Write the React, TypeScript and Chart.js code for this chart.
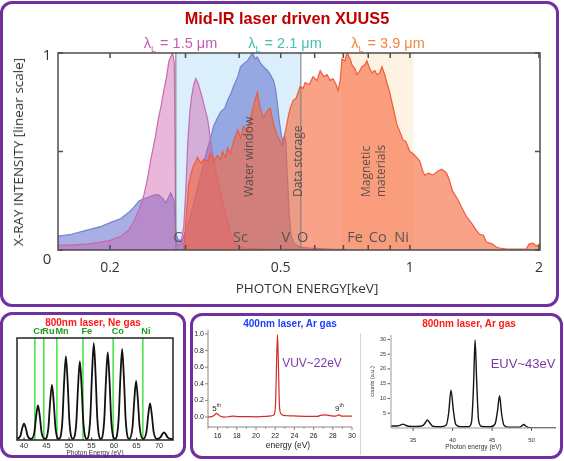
import React, { useEffect, useRef } from "react";
import { Chart, registerables } from "chart.js";

Chart.register(...registerables);

// ================= Top panel: Mid-IR laser driven XUUS5 =================
const TOP_X_MIN = 0.1513;
const TOP_X_MAX = 2.011;
const TOP_X_TICKS = [0.2, 0.3, 0.4, 0.5, 0.6, 0.7, 0.8, 0.9, 1, 2];
const TOP_X_LABEL_AT = [0.2, 0.5, 1, 2];
const TOP_X_LABELS = ["0.2", "0.5", "1", "2"];
const TOP_Y_TICKS = [0, 0.5, 1];

const EDGE_NAMES = ["C", "Sc", "V", "O", "Fe", "Co", "Ni"];
const EDGE_KEV = [0.2877, 0.403, 0.514, 0.5627, 0.745, 0.842, 0.957];
const REGION_NAMES = ["Water window", "Data storage", "Magnetic", "materials"];
const REGION_KEV = [0.424, 0.549, 0.794, 0.861];
const WATER_BAND = [0.2847, 0.557];
const MAGNETIC_BAND = [0.692, 1.02];
const EDGE_LINES = [0.2847, 0.557];

// lambda = 1.5 um (pink)
const PINK_KEV = [0.1513, 0.1625, 0.176, 0.191, 0.201, 0.212, 0.221, 0.228, 0.234, 0.24, 0.245, 0.249, 0.255, 0.259, 0.263, 0.267, 0.271, 0.2744, 0.277, 0.28, 0.2825, 0.2847, 0.2877, 0.2924, 0.2972, 0.3004, 0.3037, 0.307, 0.31, 0.3136, 0.317, 0.3204, 0.3256, 0.331, 0.338, 0.3434, 0.349, 0.356, 0.362, 0.3704, 0.376, 0.382, 0.388, 0.397, 0.414, 0.448, 0.52, 0.62];
const PINK_INT = [0.025, 0.025, 0.03, 0.04, 0.05, 0.07, 0.1, 0.15, 0.21, 0.28, 0.37, 0.46, 0.57, 0.66, 0.73, 0.81, 0.88, 0.96, 0.98, 1.0, 0.95, 0.05, 0.02, 0.03, 0.12, 0.3, 0.55, 0.7, 0.78, 0.84, 0.87, 0.85, 0.8, 0.74, 0.66, 0.55, 0.46, 0.36, 0.29, 0.2, 0.15, 0.09, 0.05, 0.02, 0.01, 0.006, 0.004, 0.002];

// lambda = 2.1 um (blue)
const BLUE_KEV = [0.1513, 0.1625, 0.176, 0.191, 0.201, 0.212, 0.221, 0.228, 0.234, 0.24, 0.247, 0.254, 0.26, 0.266, 0.27, 0.2744, 0.277, 0.282, 0.2847, 0.289, 0.294, 0.3, 0.3085, 0.317, 0.3256, 0.3325, 0.338, 0.3434, 0.349, 0.356, 0.362, 0.3704, 0.376, 0.382, 0.388, 0.397, 0.403, 0.412, 0.418, 0.424, 0.43, 0.436, 0.441, 0.448, 0.456, 0.466, 0.473, 0.481, 0.486, 0.491, 0.496, 0.502, 0.506, 0.51, 0.514, 0.518, 0.5235, 0.529, 0.538, 0.555, 0.585, 0.652, 0.706];
const BLUE_INT = [0.07, 0.08, 0.1, 0.12, 0.14, 0.16, 0.19, 0.22, 0.25, 0.26, 0.27, 0.28, 0.28, 0.26, 0.24, 0.27, 0.29, 0.25, 0.08, 0.05, 0.05, 0.09, 0.18, 0.28, 0.38, 0.46, 0.52, 0.57, 0.63, 0.67, 0.7, 0.72, 0.76, 0.79, 0.83, 0.88, 0.93, 0.95, 0.96, 0.98, 1.0, 0.97, 0.98, 0.95, 0.93, 0.91, 0.89, 0.86, 0.82, 0.75, 0.66, 0.58, 0.55, 0.58, 0.55, 0.38, 0.18, 0.07, 0.03, 0.015, 0.01, 0.005, 0.003];

// lambda = 3.9 um (orange)
const ORANGE_KEV = [0.295, 0.297, 0.302, 0.305, 0.3085, 0.312, 0.317, 0.32, 0.3256, 0.331, 0.338, 0.343, 0.349, 0.356, 0.362, 0.366, 0.372, 0.376, 0.382, 0.388, 0.397, 0.403, 0.41, 0.418, 0.424, 0.433, 0.441, 0.448, 0.456, 0.466, 0.473, 0.481, 0.491, 0.499, 0.504, 0.5125, 0.521, 0.526, 0.535, 0.543, 0.555, 0.564, 0.57, 0.583, 0.595, 0.607, 0.618, 0.63, 0.641, 0.652, 0.662, 0.673, 0.68, 0.688, 0.695, 0.706, 0.714, 0.726, 0.733, 0.745, 0.753, 0.765, 0.773, 0.786, 0.794, 0.807, 0.816, 0.829, 0.838, 0.851, 0.861, 0.874, 0.884, 0.898, 0.908, 0.922, 0.932, 0.948, 0.963, 0.979, 1.0, 1.016, 1.038, 1.055, 1.072, 1.083, 1.106, 1.13, 1.161, 1.186, 1.205, 1.218, 1.238, 1.257, 1.291, 1.319, 1.34, 1.355, 1.377, 1.399, 1.429, 1.453, 1.484, 1.508, 1.533, 1.557, 1.59, 1.616, 1.68, 1.733, 1.799, 1.867, 1.897, 1.937, 1.97, 2.011];
const ORANGE_INT = [0, 0.0, 0.2, 0.33, 0.38, 0.42, 0.45, 0.47, 0.44, 0.46, 0.45, 0.49, 0.45, 0.48, 0.46, 0.5, 0.47, 0.52, 0.49, 0.55, 0.61, 0.57, 0.63, 0.6, 0.66, 0.74, 0.8, 0.72, 0.67, 0.71, 0.72, 0.64, 0.58, 0.55, 0.53, 0.6, 0.68, 0.72, 0.76, 0.77, 0.83, 0.82, 0.85, 0.84, 0.88, 0.86, 0.91, 0.88, 0.89, 0.86, 0.87, 0.84, 0.81, 0.86, 0.97, 0.96, 1.0, 0.97, 0.94, 0.92, 0.89, 0.91, 0.93, 0.94, 0.96, 0.92, 0.9, 0.91, 0.89, 0.9, 0.93, 0.89, 0.85, 0.8, 0.75, 0.69, 0.64, 0.6, 0.56, 0.55, 0.5, 0.49, 0.47, 0.45, 0.4, 0.38, 0.39, 0.38, 0.4, 0.41, 0.4, 0.39, 0.35, 0.3, 0.26, 0.22, 0.19, 0.17, 0.15, 0.13, 0.1, 0.08, 0.075, 0.04, 0.035, 0.03, 0.015, 0.01, 0.005, 0.005, 0.005, 0.005, 0.03, 0.035, 0.02, 0.03];

// ================= Bottom-left: 800nm laser, Ne gas =================
const NE_X_MIN = 38.44;
const NE_X_MAX = 73.1;
const NE_X_TICKS = [40, 45, 50, 55, 60, 65, 70];
const NE_EDGE_NAMES = ["Cr", "Ru", "Mn", "Fe", "Co", "Ni"];
const NE_EDGE_EV = [42.4, 44.4, 47.3, 53.1, 59.8, 66.4];
const NE_EV = [38.4, 39.2, 39.6, 40.0, 40.4, 40.8, 41.55, 42.3, 42.7, 43.1, 43.5, 43.9, 44.65, 45.4, 45.8, 46.2, 46.6, 47.0, 47.75, 48.5, 48.9, 49.3, 49.7, 50.1, 50.85, 51.6, 52.0, 52.4, 52.8, 53.2, 53.95, 54.7, 55.1, 55.5, 55.9, 56.3, 57.05, 57.8, 58.2, 58.6, 59.0, 59.4, 60.2, 61.0, 61.4, 61.8, 62.2, 62.6, 63.35, 64.1, 64.5, 64.9, 65.3, 65.7, 66.45, 67.2, 67.6, 68.0, 68.4, 68.8, 69.55, 70.3, 70.7, 71.1, 71.5, 71.9, 72.6, 73.1];
const NE_SIG = [0.01, 0.04, 0.115, 0.16, 0.115, 0.04, 0.01, 0.075, 0.235, 0.34, 0.235, 0.075, 0.01, 0.115, 0.37, 0.54, 0.37, 0.115, 0.01, 0.17, 0.56, 0.82, 0.56, 0.17, 0.01, 0.16, 0.52, 0.77, 0.52, 0.16, 0.01, 0.2, 0.64, 0.95, 0.64, 0.2, 0.01, 0.18, 0.58, 0.86, 0.58, 0.18, 0.01, 0.19, 0.6, 0.89, 0.6, 0.19, 0.01, 0.125, 0.39, 0.58, 0.39, 0.125, 0.01, 0.08, 0.245, 0.36, 0.245, 0.08, 0.01, 0.025, 0.055, 0.075, 0.055, 0.025, 0.01, 0.01];

// ================= Bottom-middle: 400nm laser, Ar gas =================
const VUV_X_TICKS = [16, 18, 20, 22, 24, 26, 28, 30];
const VUV_X_MINOR = [15, 17, 19, 21, 23, 25, 27, 29];
const VUV_Y_TICKS = [0, 0.2, 0.4, 0.6, 0.8, 1.0];
const VUV_HARM_NAMES = ["5", "9"];
const VUV_HARM_EV = [15.87, 28.65];
const VUV_EV = [15.0, 15.4, 15.7, 15.87, 16.05, 16.3, 16.7, 17.2, 17.6, 18.2, 19.0, 20.0, 21.0, 21.6, 21.9, 22.05, 22.15, 22.24, 22.33, 22.45, 22.6, 22.9, 23.5, 24.5, 25.5, 26.4, 26.7, 27.2, 27.8, 28.3, 28.65, 28.9, 29.4, 30.0];
const VUV_SIG = [0.0, 0.005, 0.025, 0.045, 0.03, 0.01, 0.0, 0.005, 0.01, 0.005, 0.005, 0.003, 0.008, 0.015, 0.03, 0.2, 0.7, 0.99, 0.65, 0.12, 0.04, 0.02, 0.015, 0.01, 0.008, 0.008, 0.02, 0.025, 0.015, 0.01, 0.025, 0.01, 0.012, 0.01];

// ================= Bottom-right: 800nm laser, Ar gas =================
const EUV_X_TICKS = [35, 40, 45, 50];
const EUV_Y_TICKS = [5, 10, 15, 20, 25, 30];
const EUV_EV = [32.2, 33.0, 33.4, 33.7, 34.0, 34.4, 35.5, 36.2, 36.5, 36.8, 37.1, 37.5, 38.5, 39.2, 39.5, 39.8, 40.1, 40.4, 41.0, 42.0, 42.4, 42.65, 42.85, 43.05, 43.3, 43.7, 44.8, 45.4, 45.7, 45.95, 46.2, 46.5, 47.0, 48.5, 48.8, 49.0, 49.3, 49.7, 51.0, 53.1];
const EUV_CNT = [0.7, 0.7, 1.0, 1.3, 1.0, 0.6, 0.5, 0.8, 1.6, 2.7, 1.8, 0.6, 0.4, 1.0, 5.0, 12.8, 6.0, 1.2, 0.4, 0.4, 2.0, 14.0, 29.8, 16.0, 2.5, 0.5, 0.4, 1.5, 6.0, 10.9, 5.0, 1.0, 0.3, 0.3, 0.8, 1.2, 0.6, 0.1, 0.0, 0.0];

// ================= helpers =================
const SANS = '"Open Sans", "Noto Sans", sans-serif';
const ARIAL = '"Liberation Sans", Arial, sans-serif';
const PURPLE = "#7030a0";

const pairs = (xs: number[], ys: number[]) => xs.map((v, i) => ({ x: v, y: ys[i] }));

function seg(ctx: CanvasRenderingContext2D, x1: number, y1: number, x2: number, y2: number) {
  ctx.beginPath();
  ctx.moveTo(x1, y1);
  ctx.lineTo(x2, y2);
  ctx.stroke();
}

function baseOptions(padding: any, scales: any) {
  return {
    animation: false,
    responsive: false,
    devicePixelRatio: 1,
    events: [],
    layout: { padding },
    plugins: { legend: { display: false }, tooltip: { enabled: false }, title: { display: false } },
    elements: { point: { radius: 0 } },
    scales,
  };
}

// ----- top decorations -----
const topDecor = {
  id: "topDecor",
  beforeDatasetsDraw(chart: any) {
    const { ctx, chartArea: a } = chart;
    const x = chart.scales.x;
    ctx.save();
    const band = (r: number[], color: string) => {
      const p0 = x.getPixelForValue(r[0]);
      const p1 = x.getPixelForValue(r[1]);
      ctx.fillStyle = color;
      ctx.fillRect(p0, a.top, p1 - p0, a.bottom - a.top);
    };
    band(WATER_BAND, "#daeffb");
    band(MAGNETIC_BAND, "#fdf3e3");
    ctx.restore();
  },
  afterDatasetsDraw(chart: any) {
    const { ctx, chartArea: a } = chart;
    const x = chart.scales.x;
    ctx.save();
    ctx.strokeStyle = "rgba(125,125,125,0.7)";
    ctx.lineWidth = 1.5;
    EDGE_LINES.forEach((e) => {
      const p = x.getPixelForValue(e);
      seg(ctx, p, a.top, p, a.bottom);
    });
    ctx.fillStyle = "rgba(60,60,60,0.8)";
    ctx.font = `12px ${SANS}`;
    ctx.textAlign = "left";
    ctx.textBaseline = "middle";
    REGION_NAMES.forEach((t, i) => {
      const p = x.getPixelForValue(REGION_KEV[i]);
      ctx.save();
      ctx.translate(p, a.bottom - 53);
      ctx.rotate(-Math.PI / 2);
      ctx.fillText(t, 0, 0);
      ctx.restore();
    });
    ctx.fillStyle = "#555";
    ctx.font = `14.5px ${SANS}`;
    ctx.textAlign = "center";
    EDGE_NAMES.forEach((t, i) => ctx.fillText(t, x.getPixelForValue(EDGE_KEV[i]), a.bottom - 12));
    ctx.restore();
  },
  afterDraw(chart: any) {
    const { ctx, chartArea: a } = chart;
    const x = chart.scales.x;
    const y = chart.scales.y;
    ctx.save();
    ctx.strokeStyle = "#4d4d4d";
    ctx.lineWidth = 1.5;
    ctx.strokeRect(a.left, a.top, a.right - a.left, a.bottom - a.top);
    TOP_X_TICKS.forEach((t) => {
      const p = x.getPixelForValue(t);
      seg(ctx, p, a.bottom, p, a.bottom - 5);
      seg(ctx, p, a.top, p, a.top + 5);
    });
    TOP_Y_TICKS.forEach((t) => {
      const p = y.getPixelForValue(t);
      seg(ctx, a.left, p, a.left + 5, p);
      seg(ctx, a.right, p, a.right - 5, p);
    });
    ctx.fillStyle = "#333";
    ctx.font = `14px ${SANS}`;
    ctx.textAlign = "center";
    ctx.textBaseline = "middle";
    TOP_X_LABEL_AT.forEach((t, i) => ctx.fillText(TOP_X_LABELS[i], x.getPixelForValue(t), a.bottom + 18));
    ctx.font = `15px ${SANS}`;
    ctx.fillText("1", a.left - 11, y.getPixelForValue(1) + 3);
    ctx.fillText("0", a.left - 11, y.getPixelForValue(0) + 10);
    ctx.restore();
  },
};

// ----- Ne decorations -----
const neDecor = {
  id: "neDecor",
  beforeDatasetsDraw(chart: any) {
    const { ctx, chartArea: a } = chart;
    const x = chart.scales.x;
    ctx.save();
    ctx.strokeStyle = "#4ce64c";
    ctx.lineWidth = 1.6;
    NE_EDGE_EV.forEach((e) => {
      const p = x.getPixelForValue(e);
      seg(ctx, p, a.top, p, a.bottom);
    });
    ctx.restore();
  },
  afterDraw(chart: any) {
    const { ctx, chartArea: a } = chart;
    const x = chart.scales.x;
    ctx.save();
    ctx.strokeStyle = "#222";
    ctx.lineWidth = 1.5;
    ctx.strokeRect(a.left, a.top, a.right - a.left, a.bottom - a.top);
    ctx.lineWidth = 1;
    NE_X_TICKS.forEach((t) => {
      const p = x.getPixelForValue(t);
      seg(ctx, p, a.bottom, p, a.bottom - 2.5);
    });
    ctx.fillStyle = "#333";
    ctx.font = `7.5px ${ARIAL}`;
    ctx.textAlign = "center";
    ctx.textBaseline = "middle";
    NE_X_TICKS.forEach((t) => ctx.fillText(String(t), x.getPixelForValue(t), a.bottom + 6));
    ctx.font = `6.5px ${ARIAL}`;
    ctx.fillText("Photon Energy (eV)", (a.left + a.right) / 2, a.bottom + 13);
    ctx.fillStyle = "#1f9e1f";
    ctx.font = `bold 9.2px ${ARIAL}`;
    ctx.textAlign = "left";
    NE_EDGE_NAMES.forEach((t, i) => ctx.fillText(t, x.getPixelForValue(NE_EDGE_EV[i]) - 1.5, a.top - 7));
    ctx.restore();
  },
};

// ----- VUV decorations -----
const vuvDecor = {
  id: "vuvDecor",
  afterDraw(chart: any) {
    const { ctx, chartArea: a } = chart;
    const x = chart.scales.x;
    const y = chart.scales.y;
    ctx.save();
    ctx.strokeStyle = "#888";
    ctx.lineWidth = 1;
    seg(ctx, a.left, a.top, a.left, a.bottom);
    seg(ctx, a.left, a.bottom, a.right, a.bottom);
    VUV_Y_TICKS.forEach((t) => {
      const p = y.getPixelForValue(t);
      seg(ctx, a.left - 3, p, a.left, p);
    });
    VUV_X_TICKS.forEach((t) => {
      const p = x.getPixelForValue(t);
      seg(ctx, p, a.bottom, p, a.bottom + 3);
    });
    VUV_X_MINOR.forEach((t) => {
      const p = x.getPixelForValue(t);
      seg(ctx, p, a.bottom, p, a.bottom + 1.8);
    });
    ctx.fillStyle = "#222";
    ctx.font = `7px ${ARIAL}`;
    ctx.textAlign = "right";
    ctx.textBaseline = "middle";
    VUV_Y_TICKS.forEach((t) => ctx.fillText(t.toFixed(1), a.left - 4, y.getPixelForValue(t)));
    ctx.textAlign = "center";
    VUV_X_TICKS.forEach((t) => ctx.fillText(String(t), x.getPixelForValue(t), a.bottom + 9));
    ctx.font = `8.5px ${ARIAL}`;
    ctx.fillText("energy (eV)", (a.left + a.right) / 2 + 8, a.bottom + 19);
    VUV_HARM_NAMES.forEach((t, i) => {
      const p = x.getPixelForValue(VUV_HARM_EV[i]);
      const q = y.getPixelForValue(0.1);
      ctx.textAlign = "left";
      ctx.font = `8px ${ARIAL}`;
      ctx.fillText(t, p - 4, q);
      const w = ctx.measureText(t).width;
      ctx.font = `5px ${ARIAL}`;
      ctx.fillText("th", p - 4 + w, q - 3);
    });
    ctx.restore();
  },
};

// ----- EUV decorations -----
const euvDecor = {
  id: "euvDecor",
  afterDraw(chart: any) {
    const { ctx, chartArea: a } = chart;
    const x = chart.scales.x;
    const y = chart.scales.y;
    ctx.save();
    ctx.strokeStyle = "#999";
    ctx.lineWidth = 1;
    seg(ctx, a.left, a.top, a.left, a.bottom);
    seg(ctx, a.left, a.bottom, a.right, a.bottom);
    ctx.strokeStyle = "#555";
    EUV_Y_TICKS.forEach((t) => {
      const p = y.getPixelForValue(t);
      seg(ctx, a.left - 3.5, p, a.left - 1, p);
    });
    EUV_X_TICKS.forEach((t) => {
      const p = x.getPixelForValue(t);
      seg(ctx, p, a.bottom, p, a.bottom + 3);
    });
    ctx.fillStyle = "#333";
    ctx.font = `5.5px ${ARIAL}`;
    ctx.textAlign = "right";
    ctx.textBaseline = "middle";
    EUV_Y_TICKS.forEach((t) => ctx.fillText(String(t), a.left - 5, y.getPixelForValue(t)));
    ctx.textAlign = "center";
    ctx.font = `6px ${ARIAL}`;
    EUV_X_TICKS.forEach((t) => ctx.fillText(String(t), x.getPixelForValue(t), a.bottom + 12));
    ctx.font = `6.5px ${ARIAL}`;
    ctx.fillText("Photon energy (eV)", (a.left + a.right) / 2, a.bottom + 19);
    ctx.save();
    ctx.translate(a.left - 19, (a.top + a.bottom) / 2);
    ctx.rotate(-Math.PI / 2);
    ctx.font = `5.5px ${ARIAL}`;
    ctx.fillText("counts (a.u.)", 0, 0);
    ctx.restore();
    ctx.restore();
  },
};

function areaDataset(xs: number[], ys: number[], fill: string, stroke: string) {
  return {
    data: pairs(xs, ys),
    backgroundColor: fill,
    borderColor: stroke,
    borderWidth: 1.2,
    fill: "origin",
    tension: 0,
    pointRadius: 0,
  };
}

const Txt = ({ x, y, children, style, rot }: any) => (
  <div
    style={{
      position: "absolute",
      left: x,
      top: y,
      transform: `translate(-50%, -50%)${rot ? ` rotate(${rot}deg)` : ""}`,
      whiteSpace: "nowrap",
      lineHeight: 1,
      ...style,
    }}
  >
    {children}
  </div>
);

const Lambda = ({ x, color, value }: any) => (
  <Txt x={x} y={43} style={{ color, font: `14.5px ${ARIAL}` }}>
    λ<span style={{ fontSize: "9px", position: "relative", top: "4px" }}>L</span> = {value} μm
  </Txt>
);

const boxStyle = (left: number, top: number, width: number, height: number): React.CSSProperties => ({
  position: "absolute",
  left,
  top,
  width,
  height,
  boxSizing: "border-box",
  border: `3px solid ${PURPLE}`,
  borderRadius: 12,
});

const canvasStyle = (left: number, top: number, width: number, height: number): React.CSSProperties => ({
  position: "absolute",
  left,
  top,
  width,
  height,
});

export default function App() {
  const topRef = useRef<HTMLCanvasElement>(null);
  const neRef = useRef<HTMLCanvasElement>(null);
  const vuvRef = useRef<HTMLCanvasElement>(null);
  const euvRef = useRef<HTMLCanvasElement>(null);

  useEffect(() => {
    document.body.style.margin = "0";
    const charts: Chart[] = [];

    charts.push(
      new Chart(topRef.current as HTMLCanvasElement, {
        type: "line",
        data: {
          datasets: [
            areaDataset(ORANGE_KEV, ORANGE_INT, "rgba(246,100,55,0.6)", "rgba(240,92,58,1)"),
            areaDataset(PINK_KEV, PINK_INT, "rgba(205,95,170,0.45)", "rgba(200,100,175,0.95)"),
            areaDataset(BLUE_KEV, BLUE_INT, "rgba(95,110,205,0.55)", "rgba(115,125,205,0.95)"),
          ],
        },
        options: baseOptions(
          { left: 58, top: 53, right: 24, bottom: 56 },
          {
            x: { type: "logarithmic", min: TOP_X_MIN, max: TOP_X_MAX, display: false },
            y: { type: "linear", min: 0, max: 1, display: false },
          }
        ) as any,
        plugins: [topDecor],
      } as any)
    );

    charts.push(
      new Chart(neRef.current as HTMLCanvasElement, {
        type: "line",
        data: {
          datasets: [
            {
              data: pairs(NE_EV, NE_SIG),
              borderColor: "#111",
              borderWidth: 1.8,
              fill: false,
              cubicInterpolationMode: "monotone",
              pointRadius: 0,
            },
          ],
        },
        options: baseOptions(
          { left: 17, top: 26, right: 13, bottom: 18 },
          {
            x: { type: "linear", min: NE_X_MIN, max: NE_X_MAX, display: false },
            y: { type: "linear", min: 0, max: 1, display: false },
          }
        ) as any,
        plugins: [neDecor],
      } as any)
    );

    charts.push(
      new Chart(vuvRef.current as HTMLCanvasElement, {
        type: "line",
        data: {
          datasets: [
            {
              data: pairs(VUV_EV, VUV_SIG),
              borderColor: "#d42a2a",
              borderWidth: 1.2,
              fill: false,
              cubicInterpolationMode: "monotone",
              pointRadius: 0,
            },
          ],
        },
        options: baseOptions(
          { left: 18, top: 17, right: 10, bottom: 32 },
          {
            x: { type: "linear", min: 15, max: 30, display: false },
            y: { type: "linear", min: -0.12, max: 1.048, display: false },
          }
        ) as any,
        plugins: [vuvDecor],
      } as any)
    );

    charts.push(
      new Chart(euvRef.current as HTMLCanvasElement, {
        type: "line",
        data: {
          datasets: [
            {
              data: pairs(EUV_EV, EUV_CNT),
              borderColor: "#151515",
              borderWidth: 1.4,
              fill: false,
              cubicInterpolationMode: "monotone",
              pointRadius: 0,
            },
          ],
        },
        options: baseOptions(
          { left: 29, top: 22, right: 6, bottom: 31 },
          {
            x: { type: "linear", min: 32.2, max: 53.1, display: false },
            y: { type: "linear", min: 0, max: 31.5, display: false },
          }
        ) as any,
        plugins: [euvDecor],
      } as any)
    );

    return () => charts.forEach((c) => c.destroy());
  }, []);

  return (
    <div
      style={{
        position: "fixed",
        left: 0,
        top: 0,
        width: 564,
        height: 461,
        background: "#fff",
        overflow: "hidden",
      }}
    >
      <div style={boxStyle(0, 1, 559, 306)} />
      <div style={boxStyle(0, 312, 186, 146)} />
      <div style={boxStyle(190, 313, 373, 146)} />
      <div style={{ position: "absolute", left: 360, top: 333, width: 1, height: 122, background: "#d6d6d6" }} />

      <canvas ref={topRef} width={564} height={306} style={canvasStyle(0, 0, 564, 306)} />
      <canvas ref={neRef} width={186} height={146} style={canvasStyle(0, 312, 186, 146)} />
      <canvas ref={vuvRef} width={172} height={146} style={canvasStyle(190, 313, 172, 146)} />
      <canvas ref={euvRef} width={200} height={146} style={canvasStyle(362, 313, 200, 146)} />

      <Txt x={287} y={18} style={{ color: "#c00000", font: `bold 16.3px ${ARIAL}` }}>
        Mid-IR laser driven XUUS5
      </Txt>
      <Lambda x={180.5} color="#c45eb0" value="1.5" />
      <Lambda x={285} color="#43c2ad" value="2.1" />
      <Lambda x={388} color="#ee8840" value="3.9" />
      <Txt x={18} y={152} rot={-90} style={{ color: "#333", font: `13.5px ${SANS}` }}>
        X-RAY INTENSITY [linear scale]
      </Txt>
      <Txt x={307} y={288} style={{ color: "#333", font: `13.5px ${SANS}` }}>
        PHOTON ENERGY[keV]
      </Txt>

      <Txt x={93} y={322} style={{ color: "#ff1a1a", font: `bold 10px ${ARIAL}` }}>
        800nm laser, Ne gas
      </Txt>
      <Txt x={290} y={323} style={{ color: "#1f3dff", font: `bold 10px ${ARIAL}` }}>
        400nm laser, Ar gas
      </Txt>
      <Txt x={469} y={323} style={{ color: "#ff1a1a", font: `bold 10px ${ARIAL}` }}>
        800nm laser, Ar gas
      </Txt>
      <Txt x={312} y={363} style={{ color: "#7a3aa8", font: `12px ${ARIAL}` }}>
        VUV~22eV
      </Txt>
      <Txt x={523} y={363} style={{ color: "#7a3aa8", font: `13px ${ARIAL}` }}>
        EUV~43eV
      </Txt>
    </div>
  );
}
